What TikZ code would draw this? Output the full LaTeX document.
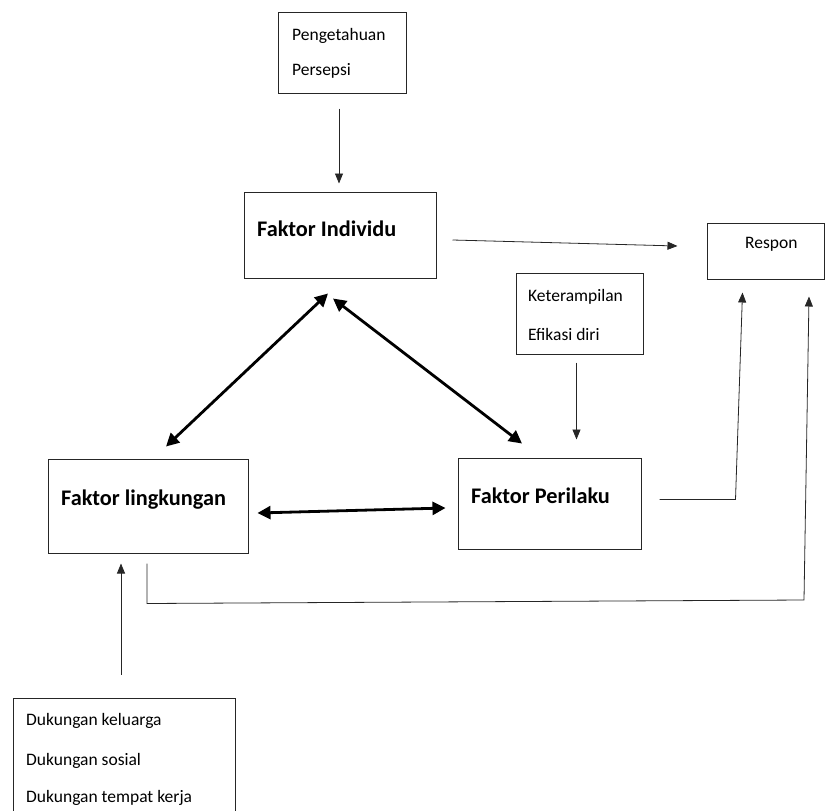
\documentclass[tikz,border=0pt]{standalone}
\usepackage{fontspec}
\setmainfont{Carlito}
\usetikzlibrary{arrows.meta}

\begin{document}
\begin{tikzpicture}[
    x=1pt,y=-1pt,
    box/.style={draw=black!85,line width=1pt,inner sep=0pt},
    txt/.style={anchor=base west,inner sep=0pt,
                font=\fontsize{17.5}{21}\selectfont},
    title/.style={anchor=base west,inner sep=0pt,
                font=\fontsize{22.3}{26}\selectfont\bfseries},
    link/.style={draw=black!85,line width=0.8pt,
                 -{Triangle[length=10pt,width=8pt]}},
    mutual/.style={line width=2.8pt,
                 {Triangle[length=13pt,width=13pt]}-{Triangle[length=13pt,width=13pt]}},
    ]

    % Page size
    \useasboundingbox (0,0) rectangle (825,811);

    % Boxes
    \node[box,minimum width=128pt,minimum height=81pt] (know)     at (342,52.5)  {};
    \node[box,minimum width=192pt,minimum height=86pt] (indiv)    at (340,235)   {};
    \node[box,minimum width=117pt,minimum height=56pt] (resp)     at (765.5,251) {};
    \node[box,minimum width=127pt,minimum height=81pt] (skill)    at (579.5,313.5) {};
    \node[box,minimum width=183pt,minimum height=91pt] (behav)    at (549.5,503.5) {};
    \node[box,minimum width=200pt,minimum height=94pt] (env)      at (148,506)   {};
    \node[box,minimum width=222pt,minimum height=124pt] (support) at (124,760)   {};

    % Texts
    \node[txt] (t-know)  at (292,40)  {Pengetahuan};
    \node[txt] (t-perc)  at (292,75)  {Persepsi};
    \node[title] (t-indiv) at (257,236) {Faktor Individu};
    \node[txt] (t-resp)  at (745,248) {Respon};
    \node[txt] (t-skill) at (528,301) {Keterampilan};
    \node[txt] (t-eff)   at (528,340) {Efikasi diri};
    \node[title] (t-behav) at (471,503) {Faktor Perilaku};
    \node[title] (t-env) at (61,505)  {Faktor lingkungan};
    \node[txt] (t-fam)   at (26,725)  {Dukungan keluarga};
    \node[txt] (t-soc)   at (26,765)  {Dukungan sosial};
    \node[txt] (t-work)  at (26,802)  {Dukungan tempat kerja};

    % Inputs
    \draw[link,shorten <=15pt,shorten >=8pt] ([xshift=-3pt]know.south) -- ([xshift=-1pt]indiv.north);
    \draw[link,shorten <=8pt,shorten >=18pt] ([xshift=-3pt]skill.south) -- ([xshift=-3pt]skill.south |- behav.north);
    \draw[link,shorten <=23pt,shorten >=10pt] ([xshift=-3pt]support.north) -- ([xshift=-3pt]support.north |- env.south);

    % Towards Respon
    \draw[link] ([xshift=16pt,yshift=-5pt]indiv.east) -- ([xshift=-29pt,yshift=5pt]resp.west);
    \draw[link] ([xshift=18pt,yshift=4pt]behav.east) -- ++(76,0)
                -- ([xshift=-23pt,yshift=-13pt]resp.south);
    \draw[link] ([xshift=-1pt,yshift=-10pt]env.south) -- ++(0,40)
                -- (804,600) -- ([xshift=43.5pt,yshift=-17pt]resp.south);

    % Mutual relations
    \draw[mutual] ([xshift=-12pt,yshift=-15pt]indiv.south) -- ([xshift=18pt,yshift=12pt]env.north);
    \draw[mutual] ([xshift=-7pt,yshift=-20pt]indiv.south) -- ([xshift=-27.5pt,yshift=14pt]behav.north);
    \draw[mutual] ([xshift=9pt,yshift=-7pt]env.east) -- ([xshift=-12pt,yshift=-4.5pt]behav.west);
\end{tikzpicture}
\end{document}
